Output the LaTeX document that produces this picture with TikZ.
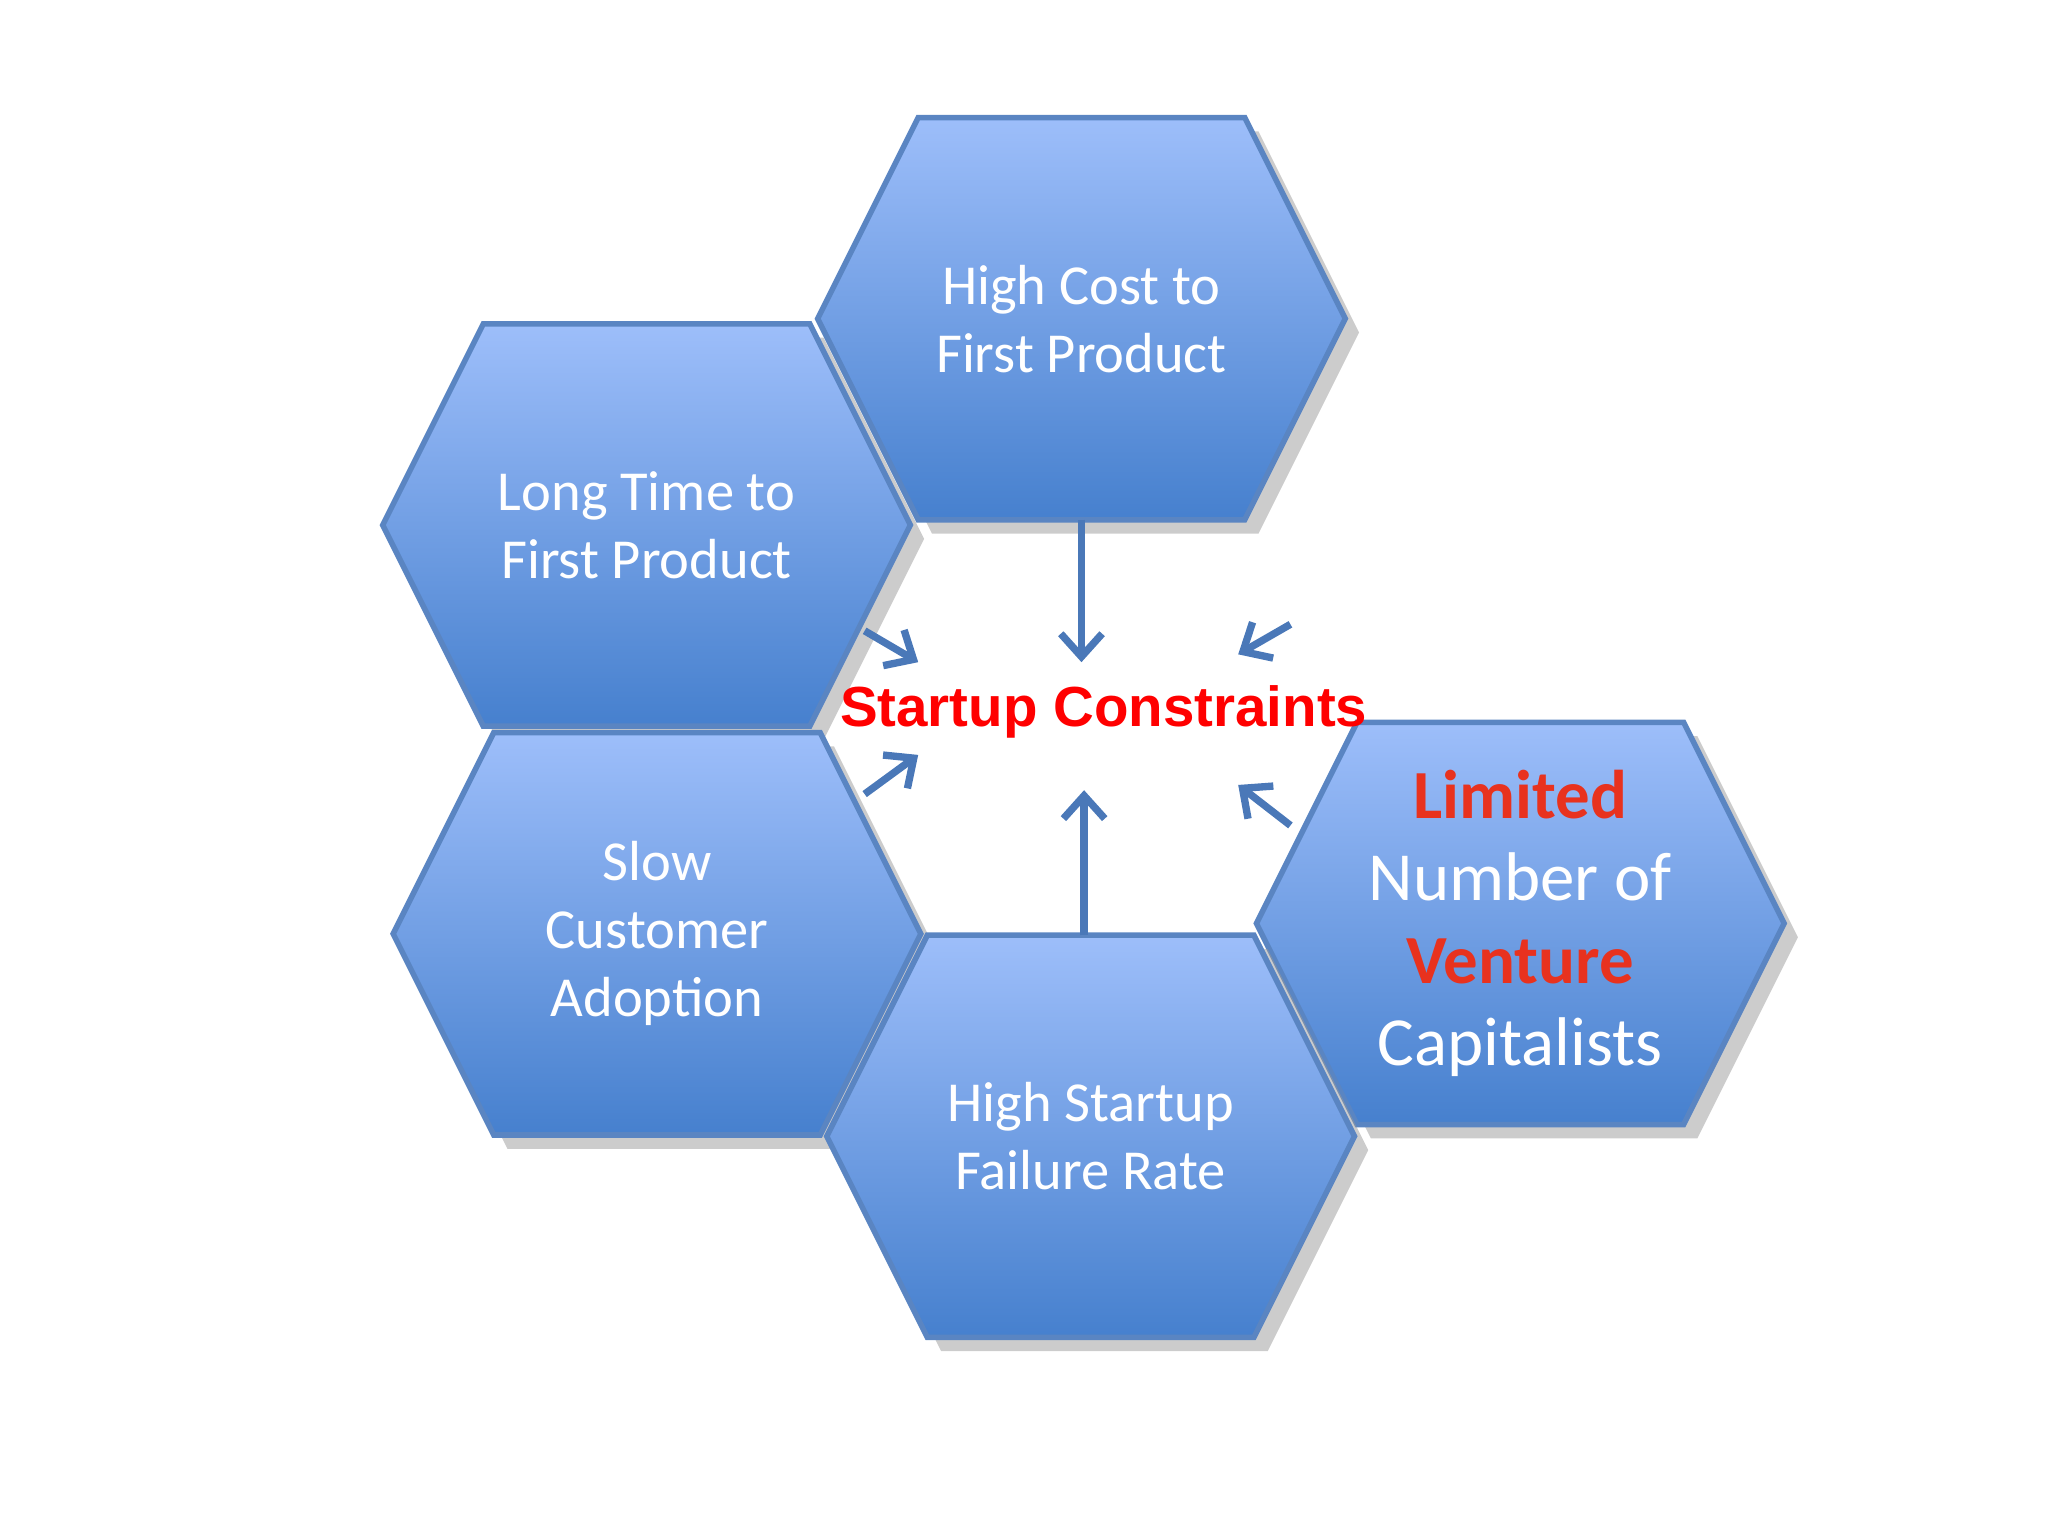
\documentclass[tikz,border=0pt]{standalone}
\usepackage{fontspec}
\setmainfont{Carlito}
\newfontfamily\arialf{Liberation Sans}
\usetikzlibrary{arrows.meta,shadows}
\definecolor{hexlight}{HTML}{9DBEFA}
\definecolor{hexdark}{HTML}{4680CE}
\definecolor{hexline}{HTML}{5A85C2}
\definecolor{arrowc}{HTML}{4A78B8}
\definecolor{redt}{HTML}{E8321E}
\tikzset{
  hexagon/.style={draw=hexline,line width=1.2pt,top color=hexlight,bottom color=hexdark,
    drop shadow={shadow xshift=3pt,shadow yshift=-3pt,fill=black!40,opacity=.5}},
  hextext/.style={text=white,align=center,font=\fontsize{12.3}{14.8}\selectfont},
  arr/.style={draw=arrowc,line width=1.6pt,-{Straight Barb[length=5pt,width=9pt]}},
}
\newcommand{\hexat}[1]{\path[hexagon] ($(#1)+(-125,154)$) -- ($(#1)+(125,154)$) -- ($(#1)+(202,0)$) -- ($(#1)+(125,-154)$) -- ($(#1)+(-125,-154)$) -- ($(#1)+(-202,0)$) -- cycle;}
\usetikzlibrary{calc}
\begin{document}
\begin{tikzpicture}[x=0.01cm,y=0.01cm]
\useasboundingbox (0,0) rectangle (1568,1176);
\coordinate (c1) at (828,932);
\coordinate (c2) at (495,774);
\coordinate (c3) at (503,461);
\coordinate (c4) at (835,306);
\coordinate (c5) at (1164,469);
\hexat{c2}
\hexat{c3}
\hexat{c1}
\hexat{c5}
\hexat{c4}
\node[hextext] (top) at (c1) {High Cost to\\First Product};
\node[hextext] (long) at (c2) {Long Time to\\First Product};
\node[hextext] (slow) at (c3) {Slow\\Customer\\Adoption};
\node[hextext] (fail) at (c4) {High Startup\\Failure Rate};
\node[text=white,align=center,font=\fontsize{15}{17.9}\selectfont] (vc) at (c5)
  {\textcolor{redt}{\textbf{Limited}}\\Number of\\\textcolor{redt}{\textbf{Venture}}\\Capitalists};
\node[text=red,font=\arialf\bfseries\fontsize{12.3}{14}\selectfont] (sc) at (845,631) {Startup Constraints};
\coordinate (a1s) at (828,778); \coordinate (a1e) at (828,669);
\coordinate (a2s) at (662,693); \coordinate (a2e) at (703,669);
\coordinate (a3s) at (988,698); \coordinate (a3e) at (948,675);
\coordinate (a4s) at (662,568); \coordinate (a4e) at (703,598);
\coordinate (a5s) at (830,460); \coordinate (a5e) at (830,571);
\coordinate (a6s) at (988,544); \coordinate (a6e) at (948,575);
\foreach \i in {1,...,6} \draw[arr] (a\i s) -- (a\i e);
\end{tikzpicture}
\end{document}
